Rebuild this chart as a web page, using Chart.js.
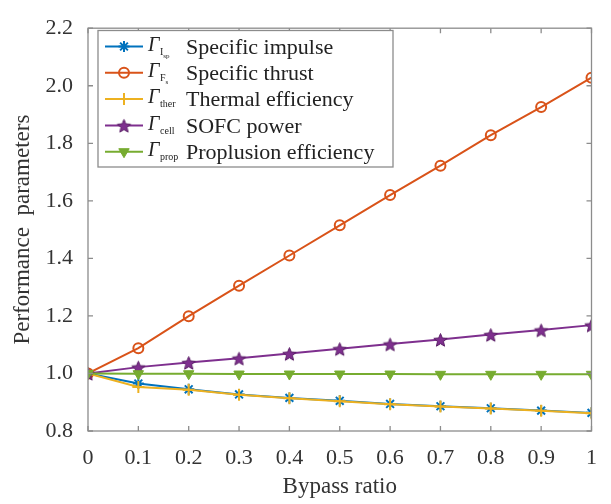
<!DOCTYPE html>
<html><head><meta charset="utf-8">
<script src="https://cdn.jsdelivr.net/npm/chart.js@4/dist/chart.umd.min.js"></script>
<style>html,body{margin:0;padding:0;background:#fff}#wrap{width:611px;height:504px;position:relative}</style>
</head><body><div id="wrap"><canvas id="c" width="611" height="504"></canvas></div>
<script>
// ---- data ----
const bypassRatio = [0, 0.1, 0.2, 0.3, 0.4, 0.5, 0.6, 0.7, 0.8, 0.9, 1.0];
const specificImpulse   = [1.0, 0.965, 0.945, 0.927, 0.915, 0.905, 0.894, 0.886, 0.879, 0.871, 0.863];
const specificThrust    = [1.0, 1.088, 1.199, 1.305, 1.410, 1.515, 1.620, 1.722, 1.828, 1.926, 2.028];
const thermalEfficiency = [1.0, 0.953, 0.943, 0.926, 0.914, 0.903, 0.893, 0.885, 0.878, 0.870, 0.862];
const sofcPower         = [1.0, 1.022, 1.038, 1.053, 1.069, 1.086, 1.102, 1.118, 1.135, 1.151, 1.168];
const propEfficiency    = [1.0, 0.999, 0.999, 0.998, 0.998, 0.998, 0.998, 0.997, 0.997, 0.997, 0.997];
const xTickLabels = ['0', '0.1', '0.2', '0.3', '0.4', '0.5', '0.6', '0.7', '0.8', '0.9', '1'];
const yTickLabels = ['0.8', '1.0', '1.2', '1.4', '1.6', '1.8', '2.0', '2.2'];
const seriesNames = ['Specific impulse', 'Specific thrust', 'Thermal efficiency', 'SOFC power', 'Proplusion efficiency'];
const seriesSubs = [['I', 'sp'], ['F', 's'], ['ther', ''], ['cell', ''], ['prop', '']];
const xTitle = 'Bypass ratio';
const yTitle = 'Performance  parameters';

// ---- styling ----
const SERIF = '"Liberation Serif", "DejaVu Serif", serif';
const colors = ['#0072BD', '#D95319', '#EDB120', '#7E2F8E', '#77AC30'];
function makeStar(fill, stroke, r) {
  const s = Math.ceil(r * 2 + 3);
  const c = document.createElement('canvas'); c.width = s; c.height = s;
  const g = c.getContext('2d');
  g.beginPath();
  for (let k = 0; k < 10; k++) {
    const rr = k % 2 ? r * 0.45 : r;
    const a = -Math.PI / 2 + k * Math.PI / 5;
    g.lineTo(s / 2 + rr * Math.cos(a), s / 2 + 1 + rr * Math.sin(a));
  }
  g.closePath(); g.fillStyle = fill; g.fill();
  g.strokeStyle = stroke; g.lineWidth = 1; g.stroke();
  return c;
}
const purpleStar = makeStar('#7E2F8E', '#5a1f66', 7);
const markerStyles = [
  {pointStyle: 'star', radius: 5.5, rotation: 0, fill: '#0072BD', borderWidth: 2},
  {pointStyle: 'circle', radius: 5, rotation: 0, fill: 'rgba(255,255,255,0)', borderWidth: 2},
  {pointStyle: 'cross', radius: 6, rotation: 0, fill: '#EDB120', borderWidth: 2},
  {pointStyle: purpleStar, radius: 7, rotation: 0, fill: '#7E2F8E', borderWidth: 1},
  {pointStyle: 'triangle', radius: 6, rotation: 180, fill: '#77AC30', borderWidth: 1}
];
const seriesValues = [specificImpulse, specificThrust, thermalEfficiency, sofcPower, propEfficiency];

const datasets = seriesValues.map((vals, i) => ({
  label: seriesNames[i],
  data: bypassRatio.map((x, j) => ({x: x, y: vals[j]})),
  borderColor: colors[i],
  backgroundColor: markerStyles[i].fill,
  pointBorderColor: colors[i],
  pointBackgroundColor: markerStyles[i].fill,
  pointStyle: markerStyles[i].pointStyle,
  pointRadius: markerStyles[i].radius,
  pointRotation: markerStyles[i].rotation,
  pointBorderWidth: markerStyles[i].borderWidth,
  borderWidth: 2,
  tension: 0,
  order: 5 - i
}));

const framePlugin = {
  id: 'frame',
  afterDatasetsDraw(chart) {
    const {ctx, chartArea: a, scales} = chart;
    ctx.save();
    ctx.strokeStyle = '#8c8c8c';
    ctx.lineWidth = 1.3;
    ctx.strokeRect(a.left, a.top, a.right - a.left, a.bottom - a.top);
    const tl = 5;
    ctx.beginPath();
    scales.x.ticks.forEach(t => {
      const px = scales.x.getPixelForValue(t.value);
      ctx.moveTo(px, a.bottom); ctx.lineTo(px, a.bottom - tl);
      ctx.moveTo(px, a.top); ctx.lineTo(px, a.top + tl);
    });
    scales.y.ticks.forEach(t => {
      const py = scales.y.getPixelForValue(t.value);
      ctx.moveTo(a.left, py); ctx.lineTo(a.left + tl, py);
      ctx.moveTo(a.right, py); ctx.lineTo(a.right - tl, py);
    });
    ctx.stroke();
    ctx.restore();
  }
};

const legendPlugin = {
  id: 'customLegend',
  afterDraw(chart) {
    const ctx = chart.ctx;
    const box = {l: 98, t: 30.5, r: 393, b: 167};
    ctx.save();
    ctx.fillStyle = '#fff';
    ctx.fillRect(box.l, box.t, box.r - box.l, box.b - box.t);
    ctx.strokeStyle = '#8c8c8c';
    ctx.lineWidth = 1.3;
    ctx.strokeRect(box.l, box.t, box.r - box.l, box.b - box.t);
    seriesNames.forEach((name, i) => {
      const y = 46.5 + i * 26.3;
      ctx.strokeStyle = colors[i];
      ctx.lineWidth = 2;
      ctx.beginPath(); ctx.moveTo(105, y); ctx.lineTo(143, y); ctx.stroke();
      const m = markerStyles[i];
      ctx.fillStyle = m.fill;
      ctx.strokeStyle = colors[i];
      ctx.lineWidth = m.borderWidth;
      Chart.helpers.drawPoint(ctx, {pointStyle: m.pointStyle, radius: m.radius, rotation: m.rotation, borderWidth: m.borderWidth}, 124, y);
      ctx.fillStyle = '#222';
      ctx.textBaseline = 'alphabetic';
      ctx.textAlign = 'left';
      const base = y + 7.3;
      ctx.font = 'italic 20px ' + SERIF;
      ctx.fillText('\u0393', 148, base - 3);
      const s = seriesSubs[i];
      ctx.font = '10px ' + SERIF;
      ctx.fillText(s[0], 160, base + 1);
      if (s[1]) {
        const w = ctx.measureText(s[0]).width;
        ctx.font = '7px ' + SERIF;
        ctx.fillText(s[1], 160 + w, base + 4);
      }
      ctx.font = '22px ' + SERIF;
      ctx.fillText(name, 186, base);
    });
    ctx.restore();
  }
};

new Chart(document.getElementById('c'), {
  type: 'line',
  data: {datasets: datasets},
  options: {
    responsive: false,
    animation: false,
    devicePixelRatio: 1,
    layout: {padding: {top: 20, right: 5, left: 0, bottom: 0}},
    plugins: {legend: {display: false}, tooltip: {enabled: false}},
    scales: {
      x: {
        type: 'linear', min: 0, max: 1,
        grid: {display: false, drawTicks: false},
        border: {display: false},
        ticks: {
          stepSize: 0.1, autoSkip: false, maxRotation: 0,
          padding: 14, color: '#333',
          font: {family: SERIF, size: 22},
          callback: (v, i) => xTickLabels[i]
        },
        title: {display: true, text: xTitle, color: '#333', font: {family: SERIF, size: 23}, padding: {top: 0, bottom: 3}},
        afterFit: s => { s.height = 73; }
      },
      y: {
        type: 'linear', min: 0.8, max: 2.2,
        grid: {display: false, drawTicks: false},
        border: {display: false},
        ticks: {
          stepSize: 0.2, padding: 15, color: '#333',
          font: {family: SERIF, size: 22},
          callback: (v, i) => yTickLabels[i]
        },
        title: {display: true, text: yTitle, color: '#333', font: {family: SERIF, size: 23}, padding: {top: 9, bottom: 0}},
        afterFit: s => { s.width = 88; }
      }
    }
  },
  plugins: [framePlugin, legendPlugin]
});
</script>
</body></html>
